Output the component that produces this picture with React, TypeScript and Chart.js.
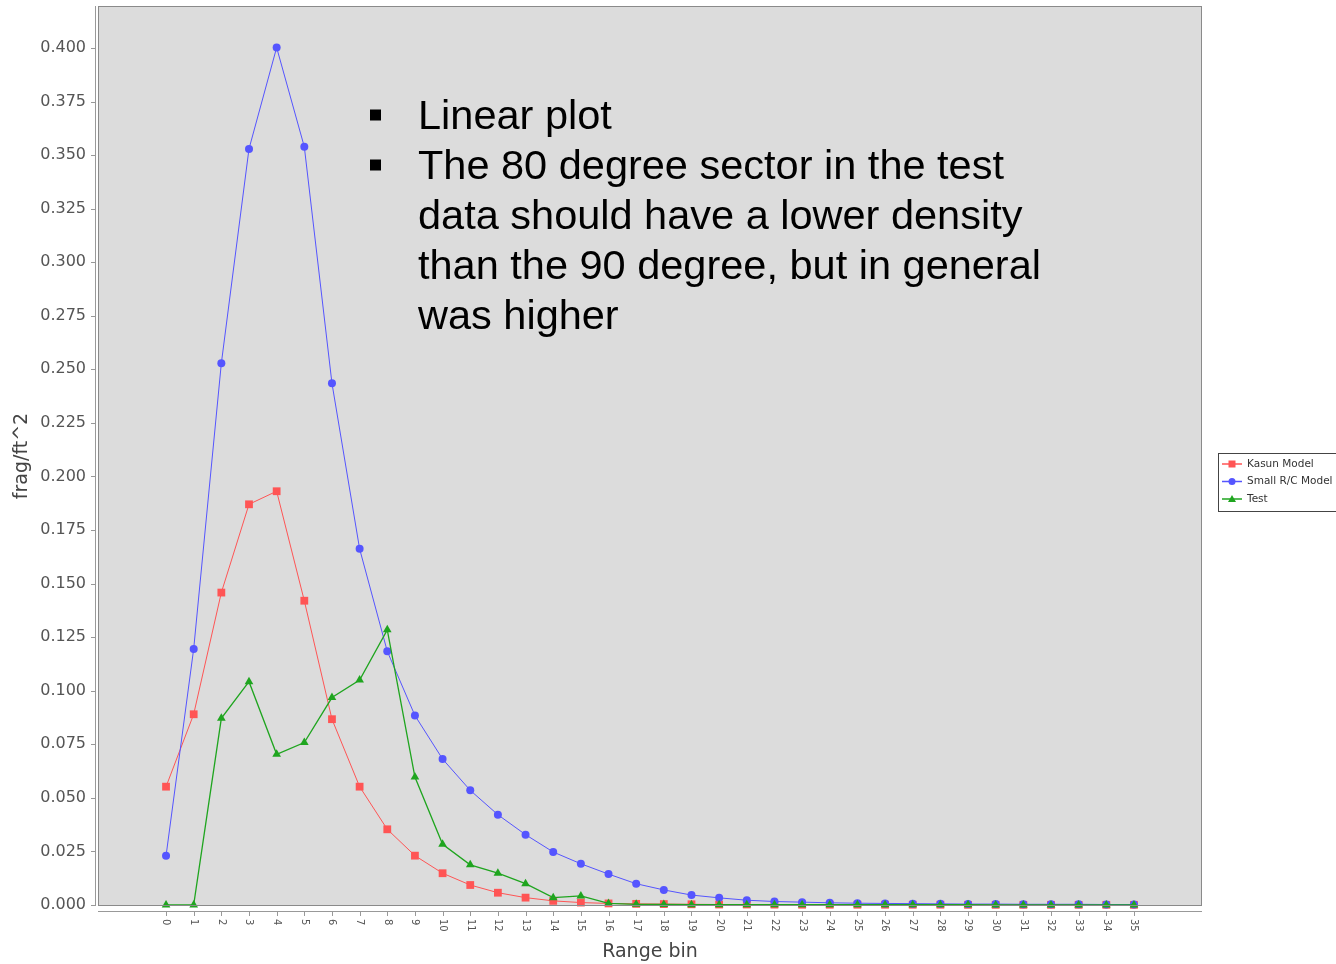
import { useEffect, useRef } from "react";
import { Chart, registerables } from "chart.js";

Chart.register(...registerables);

// ---- data ----
const BINS = [
  0, 1, 2, 3, 4, 5, 6, 7, 8, 9, 10, 11, 12, 13, 14, 15, 16, 17, 18, 19, 20, 21, 22, 23, 24, 25, 26, 27,
  28, 29, 30, 31, 32, 33, 34, 35,
];
const KASUN_MODEL = [
  0.0552, 0.089, 0.1458, 0.187, 0.1931, 0.142, 0.0867, 0.0552, 0.0353, 0.023, 0.0148, 0.0093, 0.0057,
  0.0034, 0.0019, 0.0011, 0.0007, 0.0005, 0.0004, 0.0003, 0.0002, 0.0002, 0.00015, 0.0001, 0.0001,
  0.0001, 0.0001, 0.0001, 0.0001, 0.00005, 0.00005, 0.00005, 0.00005, 0.00005, 0.00005, 0.00005,
];
const SMALL_RC_MODEL = [
  0.0229, 0.1195, 0.2528, 0.3529, 0.4002, 0.3539, 0.2435, 0.1662, 0.1184, 0.0884, 0.0681, 0.0535, 0.0421,
  0.0328, 0.0247, 0.0192, 0.0144, 0.0099, 0.007, 0.0046, 0.0033, 0.0022, 0.0016, 0.0013, 0.001, 0.0008,
  0.0007, 0.0006, 0.0005, 0.0004, 0.0004, 0.0003, 0.0003, 0.0003, 0.0002, 0.0002,
];
const TEST = [
  0.0, 0.0, 0.0871, 0.1042, 0.0703, 0.0758, 0.0968, 0.105, 0.1284, 0.0597, 0.0283, 0.0187, 0.0148, 0.0099,
  0.0034, 0.0042, 0.0007, 0.0003, 0.0002, 0.0001, 0.0001, 0.0001, 0.0001, 0.0001, 0.0001, 0.0001, 0.0001,
  0.0001, 0.0001, 0.0001, 0.0, 0.0, 0.0, 0.0, 0.0, 0.0,
];
const Y_TICKS = [
  0, 0.025, 0.05, 0.075, 0.1, 0.125, 0.15, 0.175, 0.2, 0.225, 0.25, 0.275, 0.3, 0.325, 0.35, 0.375, 0.4,
];
const SERIES_NAMES = ["Kasun Model", "Small R/C Model", "Test"];
const X_TITLE = "Range bin";
const Y_TITLE = "frag/ft^2";
const NOTE_LINES = [
  "Linear plot",
  "The 80 degree sector in the test",
  "data should have a lower density",
  "than the 90 degree, but in general",
  "was higher",
];
const NOTE_BULLETS = [true, true, false, false, false];

const RED = "#ff5555";
const BLUE = "#5555ff";
const GREEN = "#1fa51f";
const COLORS = [RED, BLUE, GREEN];
const STYLES = ["rect", "circle", "triangle"];

function drawMarker(ctx: CanvasRenderingContext2D, style: string, x: number, y: number, color: string) {
  ctx.fillStyle = color;
  ctx.beginPath();
  if (style === "rect") {
    ctx.rect(x - 3.5, y - 3.5, 7, 7);
  } else if (style === "circle") {
    ctx.arc(x, y, 3.5, 0, Math.PI * 2);
  } else {
    ctx.moveTo(x, y - 4);
    ctx.lineTo(x + 4, y + 3);
    ctx.lineTo(x - 4, y + 3);
    ctx.closePath();
  }
  ctx.fill();
}

const decorPlugin = {
  id: "decor",
  beforeDraw(chart: any) {
    const { ctx, chartArea: a } = chart;
    ctx.save();
    ctx.fillStyle = "#ffffff";
    ctx.fillRect(0, 0, chart.width, chart.height);
    ctx.fillStyle = "#dcdcdc";
    ctx.fillRect(a.left, a.top, a.right - a.left, a.bottom - a.top);
    ctx.restore();
  },
  afterDraw(chart: any) {
    const { ctx, chartArea: a } = chart;
    const xs = chart.scales.x;
    const ys = chart.scales.y;
    ctx.save();
    // plot border
    ctx.strokeStyle = "#8a8a8a";
    ctx.lineWidth = 1;
    ctx.strokeRect(a.left + 0.5, a.top + 0.5, a.right - a.left - 1, a.bottom - a.top - 1);
    // axis lines
    ctx.strokeStyle = "#999999";
    ctx.beginPath();
    ctx.moveTo(95.5, a.top);
    ctx.lineTo(95.5, a.bottom);
    ctx.moveTo(a.left, 911.5);
    ctx.lineTo(a.right, 911.5);
    ctx.stroke();
    // y ticks
    ctx.beginPath();
    Y_TICKS.forEach((v) => {
      const y = Math.round(ys.getPixelForValue(v)) + 0.5;
      ctx.moveTo(91, y);
      ctx.lineTo(95.5, y);
    });
    // x ticks
    BINS.forEach((b) => {
      const x = Math.round(xs.getPixelForValue(b)) + 0.5;
      ctx.moveTo(x, 912);
      ctx.lineTo(x, 916);
    });
    ctx.stroke();
    // x tick labels rotated clockwise
    ctx.fillStyle = "#555555";
    ctx.font = '10px "DejaVu Sans"';
    ctx.textAlign = "left";
    ctx.textBaseline = "middle";
    BINS.forEach((b) => {
      const x = xs.getPixelForValue(b);
      ctx.save();
      ctx.translate(x, 919);
      ctx.rotate(Math.PI / 2);
      ctx.fillText(String(b), 0, 0);
      ctx.restore();
    });
    // legend
    const lx = 1218;
    const ly = 453;
    ctx.fillStyle = "#ffffff";
    ctx.fillRect(lx, ly, 130, 58);
    ctx.strokeStyle = "#444444";
    ctx.strokeRect(lx + 0.5, ly + 0.5, 130, 58);
    ctx.font = '10.5px "DejaVu Sans"';
    ctx.textAlign = "left";
    ctx.textBaseline = "middle";
    SERIES_NAMES.forEach((name, i) => {
      const y = 464 + i * 17.5;
      ctx.strokeStyle = COLORS[i];
      ctx.lineWidth = 1.5;
      ctx.beginPath();
      ctx.moveTo(1222, y);
      ctx.lineTo(1242, y);
      ctx.stroke();
      drawMarker(ctx, STYLES[i], 1232, y, COLORS[i]);
      ctx.fillStyle = "#333333";
      ctx.fillText(name, 1247, y);
    });
    // note text
    ctx.fillStyle = "#000000";
    ctx.font = '41.5px "Liberation Sans"';
    ctx.textAlign = "left";
    ctx.textBaseline = "alphabetic";
    NOTE_LINES.forEach((line, i) => {
      const base = 129 + i * 50;
      if (NOTE_BULLETS[i]) {
        ctx.fillRect(370, base - 19.5, 11, 11);
      }
      ctx.fillText(line, 418, base);
    });
    ctx.restore();
  },
};

export default function App() {
  const ref = useRef<HTMLCanvasElement | null>(null);
  useEffect(() => {
    const canvas = ref.current;
    if (!canvas) return;
    const mk = (vals: number[]) => BINS.map((b, i) => ({ x: b, y: vals[i] }));
    const chart = new Chart(canvas, {
      type: "line",
      data: {
        datasets: [
          {
            label: SERIES_NAMES[0],
            data: mk(KASUN_MODEL),
            borderColor: RED,
            backgroundColor: RED,
            pointStyle: "rect",
            pointRadius: 5.5,
            pointBorderWidth: 0,
            borderWidth: 1,
            order: 3,
            clip: false,
          },
          {
            label: SERIES_NAMES[1],
            data: mk(SMALL_RC_MODEL),
            borderColor: BLUE,
            backgroundColor: BLUE,
            pointStyle: "circle",
            pointRadius: 4,
            pointBorderWidth: 0,
            borderWidth: 1,
            order: 2,
            clip: false,
          },
          {
            label: SERIES_NAMES[2],
            data: mk(TEST),
            borderColor: GREEN,
            backgroundColor: GREEN,
            pointStyle: "triangle",
            pointRadius: 5,
            pointBorderWidth: 0,
            borderWidth: 1.3,
            order: 1,
            clip: false,
          },
        ],
      } as any,
      options: {
        responsive: false,
        animation: false,
        layout: { padding: { left: 0, top: 6, right: 134, bottom: 0 } },
        plugins: { legend: { display: false }, tooltip: { enabled: false } },
        scales: {
          x: {
            type: "linear",
            min: -2.46,
            max: 37.46,
            grid: { display: false, drawTicks: false },
            border: { display: false },
            ticks: { display: false },
            afterBuildTicks: (s: any) => {
              s.ticks = BINS.map((v) => ({ value: v }));
            },
            afterFit: (s: any) => {
              s.height = 58;
              s.paddingLeft = 0;
              s.paddingRight = 0;
            },
            title: {
              display: true,
              text: X_TITLE,
              color: "#444444",
              font: { family: "DejaVu Sans", size: 19 },
              padding: { top: 0, bottom: 1 },
            },
          },
          y: {
            type: "linear",
            min: -0.0005,
            max: 0.4196,
            grid: { display: false, drawTicks: false },
            border: { display: false },
            ticks: {
              color: "#555555",
              font: { family: "DejaVu Sans", size: 16 },
              padding: 12,
              callback: (v: any) => Number(v).toFixed(3),
            },
            afterBuildTicks: (s: any) => {
              s.ticks = Y_TICKS.map((v) => ({ value: v }));
            },
            afterFit: (s: any) => {
              s.width = 98;
              s.paddingTop = 0;
              s.paddingBottom = 0;
            },
            title: {
              display: true,
              text: Y_TITLE,
              color: "#444444",
              font: { family: "DejaVu Sans", size: 19 },
              padding: { top: 11, bottom: 0 },
            },
          },
        },
      } as any,
      plugins: [decorPlugin],
    });
    return () => chart.destroy();
  }, []);
  return (
    <div style={{ position: "absolute", left: 0, top: 0, width: 1336, height: 964 }}>
      <canvas ref={ref} width={1336} height={964} style={{ display: "block" }} />
    </div>
  );
}
